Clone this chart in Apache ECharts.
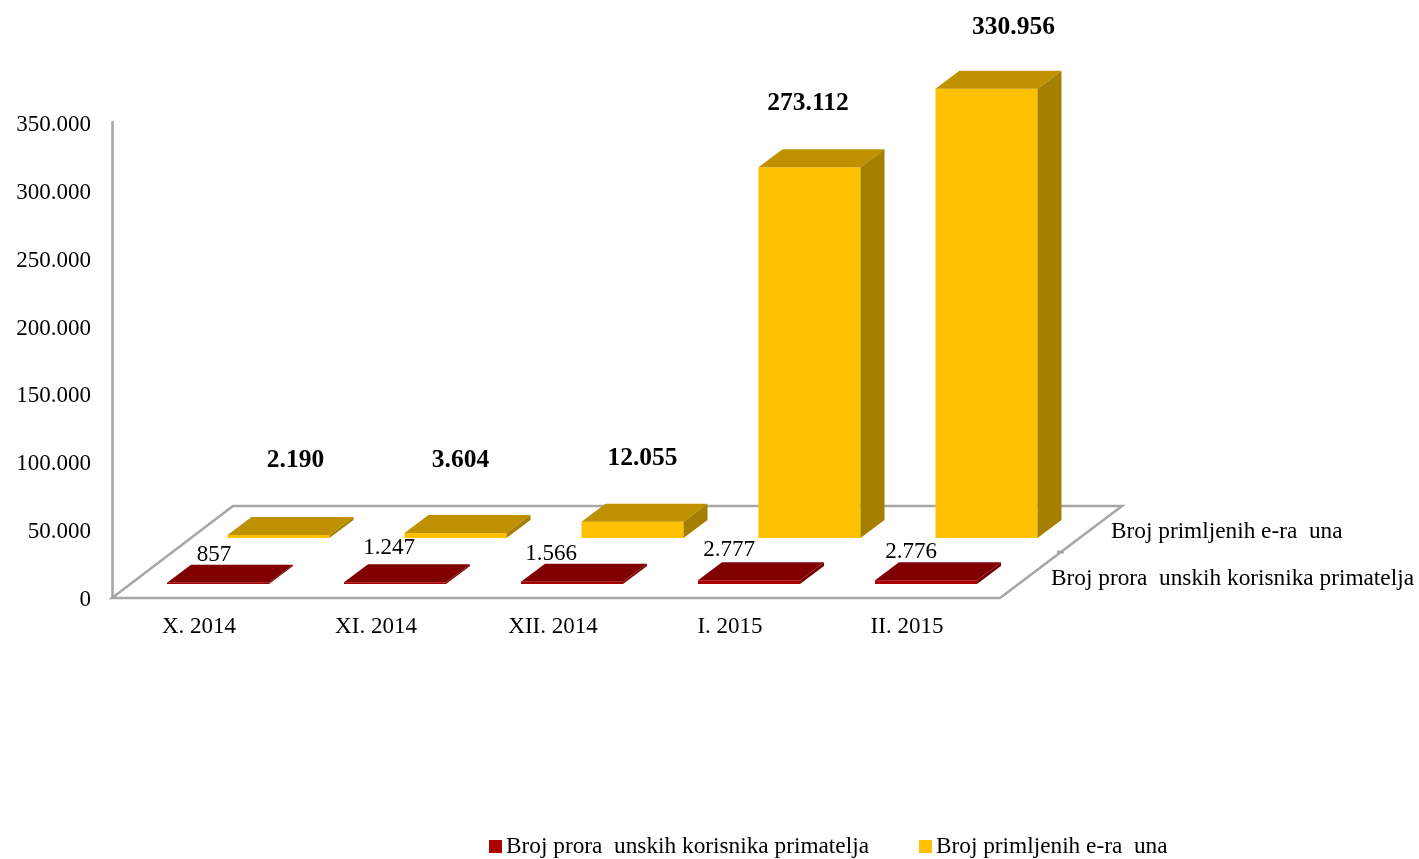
<!DOCTYPE html>
<html>
<head>
<meta charset="utf-8">
<style>html,body{margin:0;padding:0;background:#fff}#c{width:1419px;height:859px}</style>
<script src="https://cdn.jsdelivr.net/npm/echarts@6/dist/echarts.min.js"></script>
</head>
<body>
<div id="c"></div>
<script>
const categories = ['X. 2014', 'XI. 2014', 'XII. 2014', 'I. 2015', 'II. 2015'];
const korisnici = [857, 1247, 1566, 2777, 2776];
const eRacuni = [2190, 3604, 12055, 273112, 330956];
const korisniciName = 'Broj prora  unskih korisnika primatelja';
const eRacuniName = 'Broj primljenih e-ra  una';

// Layout of the pseudo-3D drawing (pixels relative to the scales)
const FONT = '"Liberation Serif","Times New Roman",serif';
const BAR_W = 102, DEPTH_X = 24, DEPTH_Y = 18;
const korisniciRow = { dx: 17.5, dy: -13, front: '#A80000', top: '#800000', side: '#7A0000' };
const eRacuniRow = { dx: 78, dy: -59, front: '#FFC000', top: '#BF9000', side: '#A67F00' };
const korisniciLabelNudge = [[-4, -28], [-6, -34], [-21, -28], [-20, -30], [-15, -28]];
const eRacuniLabelNudge = [[17, -75], [5, -73], [10, -63], [-1.5, -64], [27, -61]];

function fmt(v) { return String(v).replace(/\B(?=(\d{3})+$)/g, '.'); }

function barRenderer(row, nudges, labelFont) {
  return function (params, api) {
    const i = api.value(0), v = api.value(1);
    const base = api.coord([i, 0]), tip = api.coord([i, v]);
    const l = base[0] + row.dx - BAR_W / 2, r = l + BAR_W;
    const b = base[1] + row.dy, t = tip[1] + row.dy;
    const poly = (pts, fill) => ({ type: 'polygon', shape: { points: pts }, style: { fill: fill } });
    return {
      type: 'group',
      children: [
        poly([[l, b], [r, b], [r, t], [l, t]], row.front),
        poly([[l, t], [r, t], [r + DEPTH_X, t - DEPTH_Y], [l + DEPTH_X, t - DEPTH_Y]], row.top),
        poly([[r, b], [r + DEPTH_X, b - DEPTH_Y], [r + DEPTH_X, t - DEPTH_Y], [r, t]], row.side),
        {
          type: 'text', z2: 10,
          style: {
            text: fmt(v), x: (l + r) / 2 + nudges[i][0], y: t + nudges[i][1],
            align: 'center', verticalAlign: 'middle', font: labelFont, fill: '#000'
          }
        }
      ]
    };
  };
}

function floorRenderer(params) {
  const c = params.coordSys;
  const x0 = c.x, x1 = c.x + c.width + 3, y0 = c.y + c.height + 1, y1 = y0 - 92;
  const grey = '#A6A6A6';
  const text = (s, x, y) => ({
    type: 'text',
    style: { text: s, x: x, y: y, align: 'left', verticalAlign: 'middle', font: '23.3px ' + FONT, fill: '#000' }
  });
  return {
    type: 'group',
    children: [
      {
        type: 'polygon',
        shape: { points: [[x0, y0], [x1, y0], [x1 + 122, y1], [x0 + 121, y1]] },
        style: { fill: '#fff', stroke: grey, lineWidth: 2.5 }
      },
      {
        type: 'line',
        shape: { x1: x1 + 57, y1: y0 - 46, x2: x1 + 64, y2: y0 - 46 },
        style: { stroke: grey, lineWidth: 3 }
      },
      text(eRacuniName, 1111, 532),
      text(korisniciName, 1051, 579)
    ]
  };
}

const chart = echarts.init(document.getElementById('c'), null, { renderer: 'canvas' });
chart.setOption({
  animation: false,
  backgroundColor: '#fff',
  grid: { left: 112, top: 122, width: 885, height: 475, containLabel: false },
  legend: {
    data: [
      { name: korisniciName, icon: 'rect', itemStyle: { color: '#AE0000' } },
      { name: eRacuniName, icon: 'rect', itemStyle: { color: '#FFC000' } }
    ],
    left: 484, top: 830, itemWidth: 13, itemHeight: 13, itemGap: 50,
    textStyle: { fontFamily: FONT, fontSize: 23.3, color: '#000', padding: [0, 0, 0, -1] }
  },
  xAxis: {
    type: 'category', data: categories,
    axisLine: { show: false }, axisTick: { show: false }, splitLine: { show: false },
    axisLabel: { fontFamily: FONT, fontSize: 23, color: '#000', margin: 18, interval: 0, padding: [0, 3, 0, 0] }
  },
  yAxis: {
    type: 'value', min: 0, max: 350000, interval: 50000,
    axisLine: { show: true, lineStyle: { color: '#A6A6A6', width: 2.5 } },
    axisTick: { show: false }, splitLine: { show: false },
    axisLabel: { fontFamily: FONT, fontSize: 23, color: '#000', margin: 21, verticalAlign: 'top', lineHeight: 6, formatter: fmt }
  },
  series: [
    { type: 'custom', name: 'floor', silent: true, z: 1, clip: false, data: [[0, 0]], renderItem: floorRenderer },
    {
      type: 'custom', name: eRacuniName, z: 2, clip: false, itemStyle: { color: eRacuniRow.front },
      encode: { x: 0, y: 1 }, data: eRacuni.map((v, i) => [i, v]),
      renderItem: barRenderer(eRacuniRow, eRacuniLabelNudge, 'bold 25.5px ' + FONT)
    },
    {
      type: 'custom', name: korisniciName, z: 3, clip: false, itemStyle: { color: korisniciRow.front },
      encode: { x: 0, y: 1 }, data: korisnici.map((v, i) => [i, v]),
      renderItem: barRenderer(korisniciRow, korisniciLabelNudge, '23px ' + FONT)
    }
  ]
});
</script>
</body>
</html>
